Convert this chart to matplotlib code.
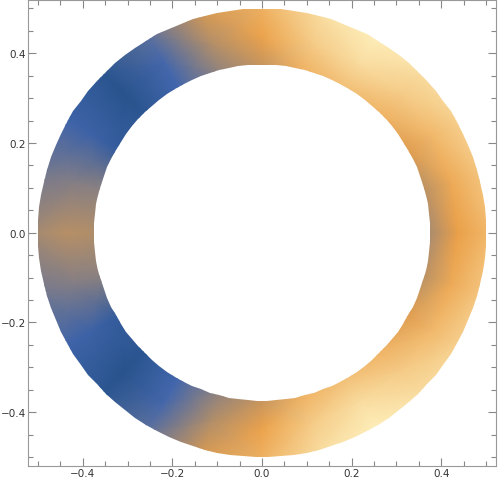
import numpy as np
import matplotlib
matplotlib.use("Agg")
import matplotlib.pyplot as plt
import matplotlib.path as mpath
import matplotlib.patches as mpatches
from matplotlib.colors import LinearSegmentedColormap
from matplotlib.ticker import MultipleLocator, FixedLocator

# ring geometry
r_inner = 0.375
r_outer = 0.5

# colour level, upper half (the lower half is its mirror)
angles_deg = [0, 15, 30, 45, 60, 75, 90, 105, 120, 135, 150, 165, 180]
level_inner = [0.50, 0.56, 0.68, 0.78, 0.82, 0.78, 0.60, 0.45, 0.25, 0.04, 0.12, 0.44, 0.54]
level_mid = [0.72, 0.75, 0.80, 0.86, 0.92, 0.86, 0.73, 0.55, 0.26, 0.00, 0.20, 0.42, 0.56]
level_outer = [0.80, 0.84, 0.88, 0.92, 0.98, 0.92, 0.78, 0.65, 0.32, 0.04, 0.22, 0.38, 0.50]

# density gradient (dark blue -> blue -> tan -> orange -> pale yellow)
grad_pos = [0.0, 0.25, 0.5, 0.72, 1.0]
grad_col = ["#28538c", "#4266ad", "#a38a72", "#eba048", "#fff5c4"]

tick_major = [-0.4, -0.2, 0.0, 0.2, 0.4]
tick_labels = ["\u22120.4", "\u22120.2", "0.0", "0.2", "0.4"]


def main():
    cmap = LinearSegmentedColormap.from_list("m10", list(zip(grad_pos, grad_col)))

    fig = plt.figure(figsize=(4.98, 4.85), dpi=100)
    ax = fig.add_axes([28 / 498, 18 / 485, 468 / 498, 466.5 / 485])

    # full circle from -180 to 180 degrees
    a = np.array(angles_deg, dtype=float)
    theta = np.deg2rad(np.concatenate([-a[::-1], a[1:]]))
    levels = []
    for lv in (level_inner, level_mid, level_outer):
        lv = np.array(lv)
        levels.append(np.concatenate([lv[::-1], lv[1:]]))
    C = np.array(levels)

    half = np.deg2rad(7.5)
    radii = np.array([r_inner * np.cos(half) - 0.003, (r_inner + r_outer) / 2, r_outer / np.cos(half) + 0.003])
    R, T = np.meshgrid(radii, theta, indexing="ij")
    X = R * np.cos(T)
    Y = R * np.sin(T)

    mesh = ax.pcolormesh(X, Y, C, shading="gouraud", cmap=cmap, vmin=0, vmax=1)

    # faceted annulus outline used as clip
    n = 110
    t = np.linspace(0, 2 * np.pi, n + 1)
    outer = np.column_stack([r_outer * np.cos(t), r_outer * np.sin(t)])
    inner = np.column_stack([r_inner * np.cos(t[::-1]), r_inner * np.sin(t[::-1])])
    verts = np.concatenate([outer, inner])
    codes = np.full(len(verts), mpath.Path.LINETO)
    codes[0] = mpath.Path.MOVETO
    codes[n + 1] = mpath.Path.MOVETO
    ring = mpath.Path(verts, codes)
    clip = mpatches.PathPatch(ring, transform=ax.transData, facecolor="none", edgecolor="none")
    ax.add_patch(clip)
    mesh.set_clip_path(clip)

    ax.set_xlim(-0.522, 0.522)
    ax.set_ylim(-0.52, 0.52)

    for axis in (ax.xaxis, ax.yaxis):
        axis.set_major_locator(FixedLocator(tick_major))
        axis.set_minor_locator(MultipleLocator(0.05))
    ax.set_xticklabels(tick_labels)
    ax.set_yticklabels(tick_labels)

    ax.tick_params(which="both", direction="in", top=True, right=True, colors="#888888",
                   labelcolor="#333333", labelsize=7.5, width=0.8)
    ax.tick_params(which="major", length=6, pad=1.5)
    ax.tick_params(which="minor", length=3.5)
    for s in ax.spines.values():
        s.set_color("#999999")
        s.set_linewidth(0.8)

    fig.savefig("out.png", dpi=100)


if __name__ == '__main__':
    main()
